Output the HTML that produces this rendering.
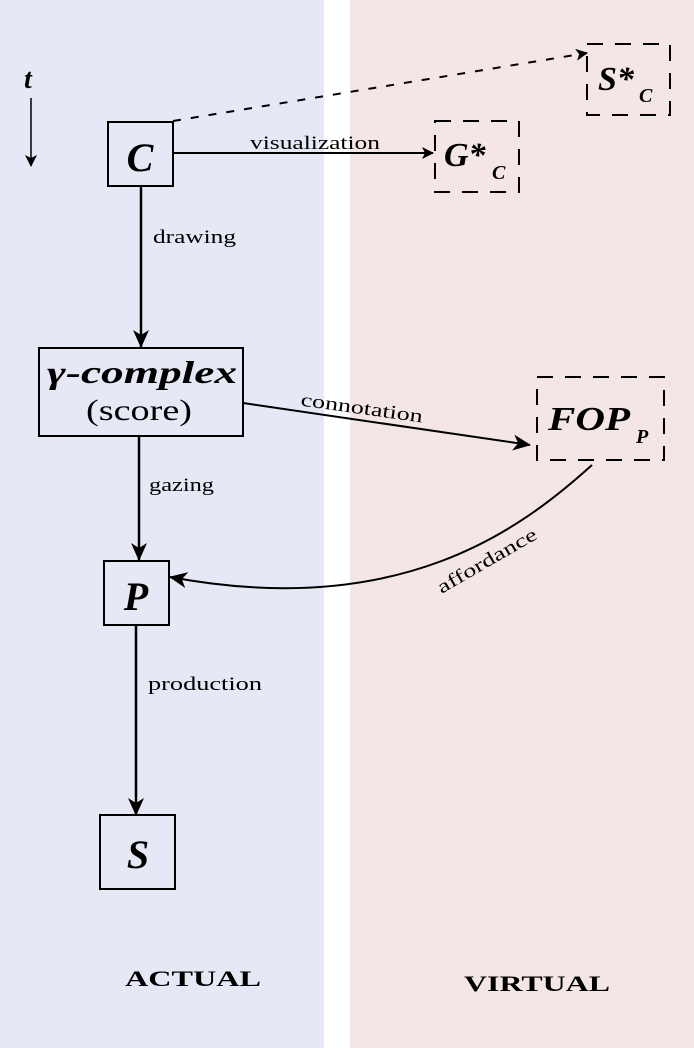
<!DOCTYPE html>
<html><head><style>
html,body{margin:0;padding:0;background:#fff}
svg{display:block}
text{font-family:"Liberation Serif",serif;fill:#000}
.m{font-style:italic;font-weight:bold}
</style></head><body>
<svg width="694" height="1048" viewBox="0 0 694 1048" xmlns="http://www.w3.org/2000/svg">
<defs>
<marker id="a" markerWidth="12" markerHeight="12" refX="11" refY="6" orient="auto" markerUnits="userSpaceOnUse"><path d="M0,0 L12,6 L0,12 L3,6 Z" fill="#000"/></marker>
<marker id="b" markerWidth="18" markerHeight="16" refX="17" refY="8" orient="auto" markerUnits="userSpaceOnUse"><path d="M0,0 L18,8 L0,16 L5,8 Z" fill="#000"/></marker>
</defs>
<rect x="0" y="0" width="324" height="1048" fill="#e6e8f5"/>
<rect x="350" y="0" width="344" height="1048" fill="#f4e6e6"/>
<text x="24" y="88" class="m" font-size="28">t</text>
<line x1="31" y1="98" x2="31" y2="166" stroke="#000" stroke-width="1.5" marker-end="url(#a)"/>
<rect x="108" y="122" width="65" height="64" fill="none" stroke="#000" stroke-width="2"/>
<text x="140" y="171" class="m" font-size="40" text-anchor="middle">C</text>
<line x1="173" y1="121" x2="587" y2="53" stroke="#000" stroke-width="2" stroke-dasharray="8,10" marker-end="url(#a)"/>
<line x1="173" y1="153" x2="433" y2="153" stroke="#000" stroke-width="2" marker-end="url(#a)"/>
<text x="250" y="149" font-size="19" textLength="130" lengthAdjust="spacingAndGlyphs">visualization</text>
<rect x="587" y="44" width="83" height="71" fill="none" stroke="#000" stroke-width="2" stroke-dasharray="16,12"/>
<text x="598" y="90" class="m" font-size="34">S*</text><text x="639" y="102" class="m" font-size="20">C</text>
<rect x="435" y="121" width="84" height="71" fill="none" stroke="#000" stroke-width="2" stroke-dasharray="16,12"/>
<text x="444" y="166" class="m" font-size="34">G*</text><text x="492" y="179" class="m" font-size="20">C</text>
<line x1="141" y1="186" x2="141" y2="347" stroke="#000" stroke-width="2.5" marker-end="url(#b)"/>
<text x="153" y="243" font-size="19" textLength="83" lengthAdjust="spacingAndGlyphs">drawing</text>
<rect x="39" y="348" width="204" height="88" fill="none" stroke="#000" stroke-width="2"/>
<text x="47" y="383" class="m" font-size="32" textLength="190" lengthAdjust="spacingAndGlyphs">γ-complex</text>
<text x="86" y="420" font-size="30" textLength="106" lengthAdjust="spacingAndGlyphs">(score)</text>
<line x1="243" y1="403" x2="530" y2="445" stroke="#000" stroke-width="2" marker-end="url(#b)"/>
<text x="361" y="414" font-size="19" text-anchor="middle" textLength="123" lengthAdjust="spacingAndGlyphs" transform="rotate(8 361 414)">connotation</text>
<rect x="537" y="377" width="127" height="83" fill="none" stroke="#000" stroke-width="2" stroke-dasharray="16,12"/>
<text x="548" y="430" class="m" font-size="34" textLength="82" lengthAdjust="spacingAndGlyphs">FOP</text><text x="636" y="443" class="m" font-size="20">P</text>
<line x1="139" y1="436" x2="139" y2="560" stroke="#000" stroke-width="2.5" marker-end="url(#b)"/>
<text x="149" y="491" font-size="19" textLength="65" lengthAdjust="spacingAndGlyphs">gazing</text>
<rect x="104" y="561" width="65" height="64" fill="none" stroke="#000" stroke-width="2"/>
<text x="136" y="610" class="m" font-size="40" text-anchor="middle">P</text>
<path d="M592,465 C520,530 400,620 170,577" fill="none" stroke="#000" stroke-width="2" marker-end="url(#b)"/>
<text x="490" y="566" font-size="19" text-anchor="middle" textLength="112" lengthAdjust="spacingAndGlyphs" transform="rotate(-30 490 566)">affordance</text>
<line x1="136" y1="625" x2="136" y2="815" stroke="#000" stroke-width="2.5" marker-end="url(#b)"/>
<text x="148" y="690" font-size="19" textLength="114" lengthAdjust="spacingAndGlyphs">production</text>
<rect x="100" y="815" width="75" height="74" fill="none" stroke="#000" stroke-width="2"/>
<text x="138" y="868" class="m" font-size="40" text-anchor="middle">S</text>
<text x="125" y="986" font-size="22" font-weight="bold" textLength="136" lengthAdjust="spacingAndGlyphs">ACTUAL</text>
<text x="464" y="991" font-size="22" font-weight="bold" textLength="146" lengthAdjust="spacingAndGlyphs">VIRTUAL</text>
</svg>
</body></html>
